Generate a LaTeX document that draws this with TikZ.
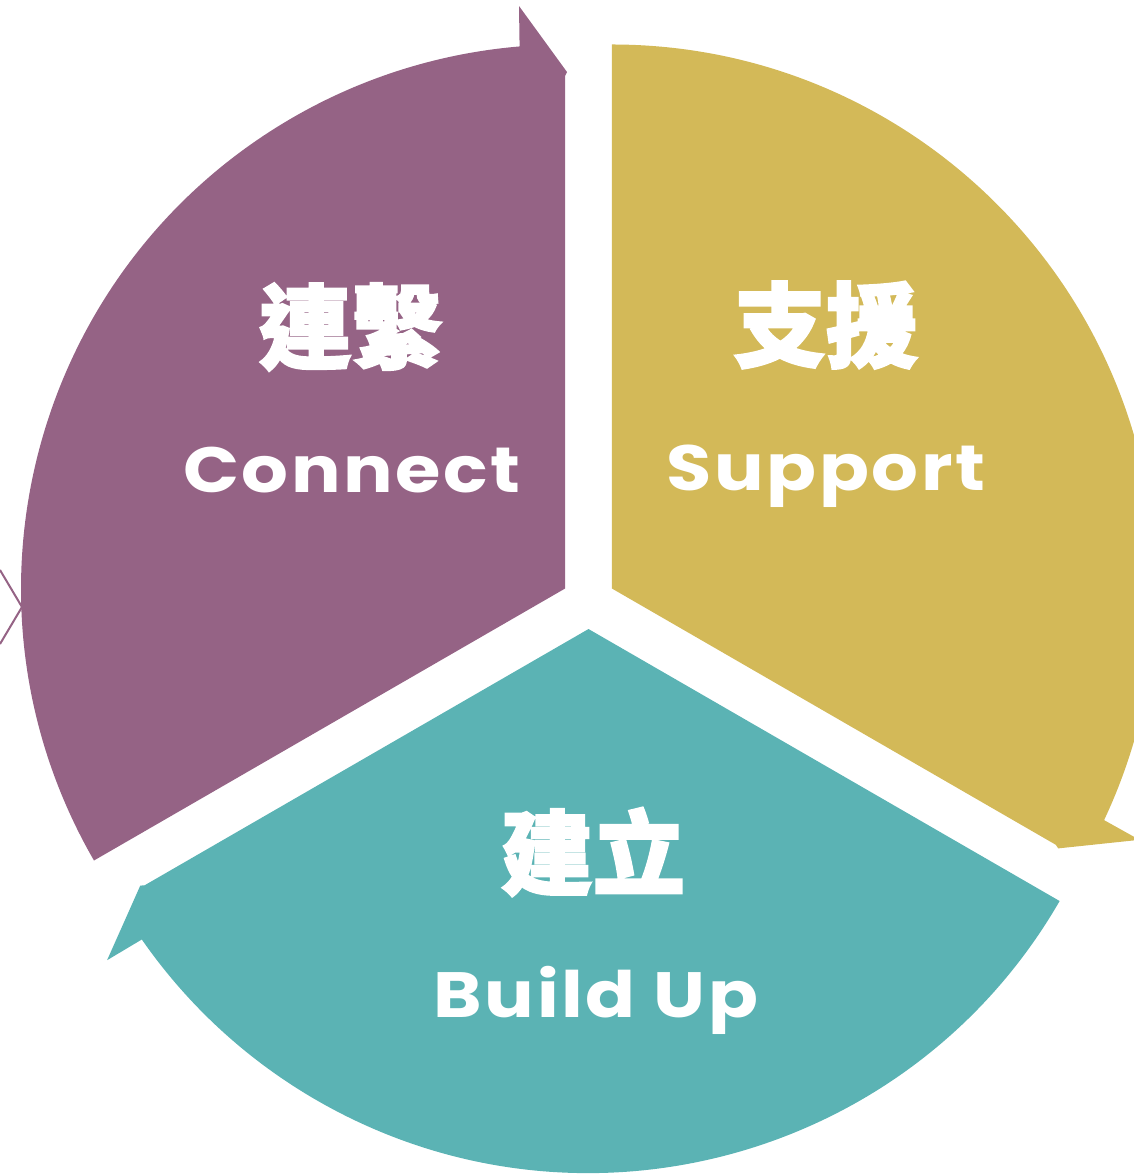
\documentclass[tikz,border=0pt]{standalone}
\usepackage{fontspec}
\newfontfamily\cjkfont[FakeBold=2.5]{Noto Sans CJK TC}
\newfontfamily\labelfont[LetterSpace=4,FakeStretch=1.15]{Poppins}
\definecolor{connectpurple}{RGB}{149,99,133}
\definecolor{supportgold}{RGB}{211,185,88}
\definecolor{buildteal}{RGB}{91,179,180}

\begin{document}
\begin{tikzpicture}[x=0.5pt,y=0.5pt,yscale=-1,
    cjklabel/.style={text=white, inner sep=0pt, font=\cjkfont\bfseries\fontsize{46}{46}\selectfont},
    enlabel/.style={text=white, inner sep=0pt, anchor=base, font=\labelfont\bfseries\fontsize{32}{32}\selectfont}]
    \clip (0,0) rectangle (1134,1174);
    %Shape: Arrow segment (Connect)
    \begin{scope}[shift={(588.5,602)}]
    \fill[connectpurple] (-23.4,-13.5) -- ++(150:544) arc[start angle=150, end angle=265.2, radius=544] -- (-69.5,-596) -- (-21.5,-530) -- (-23.4,-526) -- cycle ;
    \end{scope}
    %Shape: Arrow segment (Support)
    \begin{scope}[shift={(588.5,602)},rotate=120]
    \fill[supportgold] (-23.4,-13.5) -- ++(150:544) arc[start angle=150, end angle=265.2, radius=544] -- (-69.5,-596) -- (-21.5,-530) -- (-23.4,-526) -- cycle ;
    \end{scope}
    %Shape: Arrow segment (Build Up)
    \begin{scope}[shift={(588.5,602)},rotate=240]
    \fill[buildteal] (-23.4,-13.5) -- ++(150:544) arc[start angle=150, end angle=265.2, radius=544] -- (-69.5,-596) -- (-21.5,-530) -- (-23.4,-526) -- cycle ;
    \end{scope}
    %Straight Lines (chevron at the left edge)
    \draw[connectpurple, line width=1pt] (0,570) -- (22,607) -- (0,644) ;
    % Text Node
    \node[cjklabel] (lianxi) at (351,327) {連繫};
    \node[enlabel] (connect) at (352,492) {Connect};
    % Text Node
    \node[cjklabel] (zhiyuan) at (826,325) {支援};
    \node[enlabel] (support) at (826,490) {Support};
    % Text Node
    \node[cjklabel] (jianli) at (593,852) {建立};
    \node[enlabel] (buildup) at (596,1017) {Build Up};
\end{tikzpicture}
\end{document}
